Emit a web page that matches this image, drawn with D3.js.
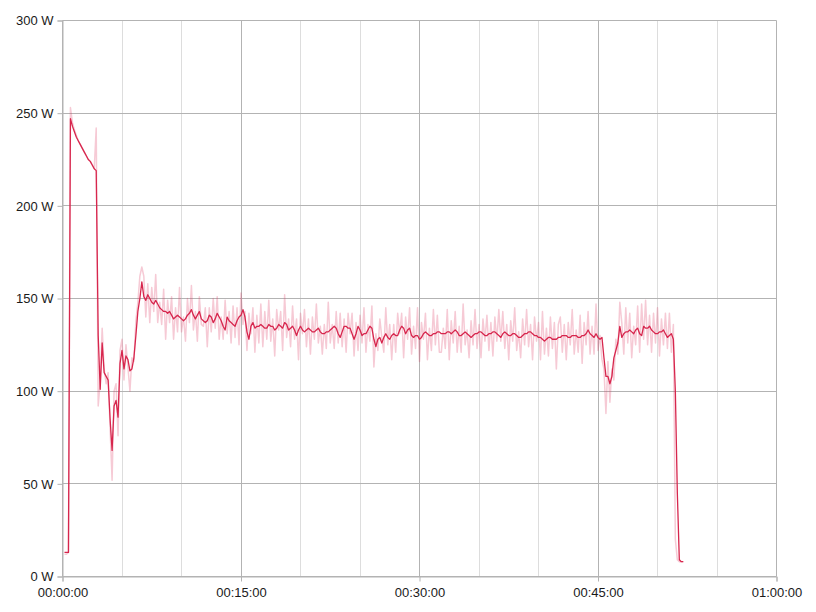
<!DOCTYPE html>
<html>
<head>
<meta charset="utf-8">
<script src="https://cdn.jsdelivr.net/npm/d3@7"></script>
<style>
  html, body { margin: 0; padding: 0; background: #ffffff; }
  svg { display: block; }
  .tick text { font-family: "Liberation Sans", Arial, sans-serif; font-size: 13px; fill: #1a1a1a; }
</style>
</head>
<body>
<svg id="chart" width="816" height="612"></svg>
<script>
// ---- Data ----
// samples every stepSec seconds, first sample at startSec
const startSec = 10;
const stepSec = 10;

// raw power readings (W)
const rawPower = [
  12,12,13,253,245,241,238,235,233,231,229,227,225,224,222,220,242,92,105,134,
  112,104,110,80,52,100,104,76,122,128,106,125,113,100,118,116,138,148,162,167,
  162,140,158,137,156,143,163,137,148,136,155,128,149,137,151,128,145,132,156,132,
  140,127,150,137,157,133,143,127,151,136,
  135,145,124,145,132,150,134,151,128,140,128,149,131,143,126,146,129,145,125,153,
  136,143,122,142,131,145,121,141,126,147,
  124,143,128,149,127,139,119,144,133,143,122,152,129,139,124,146,128,139,117,142,
  131,144,124,139,120,140,128,147,126,135,
  120,136,123,148,126,136,123,143,126,142,124,139,121,142,131,142,119,137,122,141,
  126,145,121,136,127,146,113,131,122,139,
  129,121,145,125,136,117,136,121,142,131,142,118,140,128,145,120,135,123,145,116,
  137,128,142,117,134,122,144,125,141,121,
  121,134,123,144,117,138,126,143,121,135,121,147,125,133,118,138,125,144,123,136,
  118,139,127,141,122,137,119,140,127,144,
  127,143,123,136,117,138,127,145,122,132,118,139,125,144,124,136,117,140,127,137,
  117,143,120,134,119,140,123,137,112,136,
  140,121,136,117,137,125,144,120,133,121,141,115,137,125,143,120,135,120,147,122,
  130,117,112,88,116,94,112,106,128,120,148,
  137,120,145,126,142,118,135,125,146,121,147,128,149,125,141,121,142,126,145,119,
  139,125,142,123,142,121,136,20,9,8,8,8
];

// smoothed power (W)
const smoothPower = [
  13,13,13,247,243,240,237,235,233,231,229,227,225,224,222,220,219,130,101,126,
  110,108,106,85,68,92,95,86,115,122,112,119,117,111,112,118,130,143,150,159,
  151,149,152,150,148,147,149,147,145,144,143,143,142,143,141,139,140,141,140,139,
  138,139,141,142,144,141,139,141,143,139,
  138,137,138,141,140,137,139,142,140,138,135,133,140,138,137,136,135,138,140,141,
  144,140,132,128,135,137,134,135,135,136,
  135,134,134,136,135,135,133,134,136,135,134,137,136,133,134,135,133,130,133,135,
  133,132,133,134,133,132,132,133,134,132,
  131,131,132,132,133,134,135,134,131,129,132,135,135,134,134,131,128,131,135,133,
  130,131,131,133,135,134,128,124,128,129,
  126,129,131,129,128,130,131,130,130,133,135,134,131,133,134,130,129,130,130,128,
  129,131,132,131,130,130,131,131,132,132,
  131,131,131,132,132,131,132,133,132,130,130,131,132,131,130,129,130,131,131,132,
  132,131,130,130,131,131,132,132,131,130,
  129,131,132,131,130,130,131,131,130,129,129,130,131,131,132,132,131,130,130,129,
  129,128,127,128,129,129,128,128,128,129,
  129,130,130,130,129,129,130,130,130,129,129,130,130,131,133,131,130,129,131,129,
  128,129,118,108,108,104,108,118,122,126,135,
  129,131,132,132,133,132,131,133,134,131,130,135,134,134,135,133,132,131,131,132,
  132,133,131,129,130,131,128,100,45,9,8,8
];

const yTicks = [0, 50, 100, 150, 200, 250, 300];
const yUnit = " W";
const xMajorTicks = [0, 900, 1800, 2700, 3600];
const xMajorLabels = ["00:00:00", "00:15:00", "00:30:00", "00:45:00", "01:00:00"];
const xMinorTicks = [300, 600, 1200, 1500, 2100, 2400, 3000, 3300];

// ---- Layout ----
const svg = d3.select("#chart");
const plotLeft = 62.5, plotRight = 776.5, plotTop = 20.5, plotBottom = 576.5;

const x = d3.scaleLinear().domain([0, 3600]).range([plotLeft, plotRight]);
const y = d3.scaleLinear().domain([0, 300]).range([plotBottom, plotTop]);

const gridMajor = "#b3b3b3";
const gridMinor = "#dddddd";

// minor vertical grid
svg.append("g").selectAll("line").data(xMinorTicks).join("line")
  .attr("x1", d => Math.round(x(d) - 0.5) + 0.5).attr("x2", d => Math.round(x(d) - 0.5) + 0.5)
  .attr("y1", plotTop).attr("y2", plotBottom)
  .attr("stroke", gridMinor).attr("stroke-width", 1);

// major vertical grid
svg.append("g").selectAll("line").data(xMajorTicks).join("line")
  .attr("x1", d => Math.round(x(d) - 0.5) + 0.5).attr("x2", d => Math.round(x(d) - 0.5) + 0.5)
  .attr("y1", plotTop).attr("y2", plotBottom)
  .attr("stroke", gridMajor).attr("stroke-width", 1);

// horizontal grid
svg.append("g").selectAll("line").data(yTicks).join("line")
  .attr("x1", plotLeft).attr("x2", plotRight)
  .attr("y1", d => Math.round(y(d) - 0.5) + 0.5).attr("y2", d => Math.round(y(d) - 0.5) + 0.5)
  .attr("stroke", gridMajor).attr("stroke-width", 1);

// axes
const yAxis = d3.axisLeft(y).tickValues(yTicks).tickSize(5).tickPadding(4)
  .tickFormat(d => d + yUnit);
const gy = svg.append("g").attr("transform", `translate(${plotLeft},0)`).call(yAxis);
gy.select(".domain").attr("stroke", gridMajor);
gy.selectAll(".tick line").attr("stroke", gridMajor);
gy.selectAll(".tick text").attr("fill", "#1a1a1a");

const xAxis = d3.axisBottom(x).tickValues(xMajorTicks).tickSize(5).tickPadding(6)
  .tickFormat((d, i) => xMajorLabels[i]);
const gx = svg.append("g").attr("transform", `translate(0,${plotBottom})`).call(xAxis);
gx.select(".domain").attr("stroke", gridMajor);
gx.selectAll(".tick line").attr("stroke", gridMajor);
gx.selectAll(".tick text").attr("fill", "#1a1a1a");

// lines
const tAt = i => startSec + i * stepSec;
const line = d3.line().x((d, i) => x(tAt(i))).y(d => y(d));

svg.append("path").datum(rawPower)
  .attr("fill", "none").attr("stroke", "#dc3c64").attr("stroke-opacity", 0.27)
  .attr("stroke-width", 1.5).attr("stroke-linejoin", "round")
  .attr("d", line);

svg.append("path").datum(smoothPower)
  .attr("fill", "none").attr("stroke", "#d7264d")
  .attr("stroke-width", 1.3).attr("stroke-linejoin", "round")
  .attr("d", line);
</script>
</body>
</html>
